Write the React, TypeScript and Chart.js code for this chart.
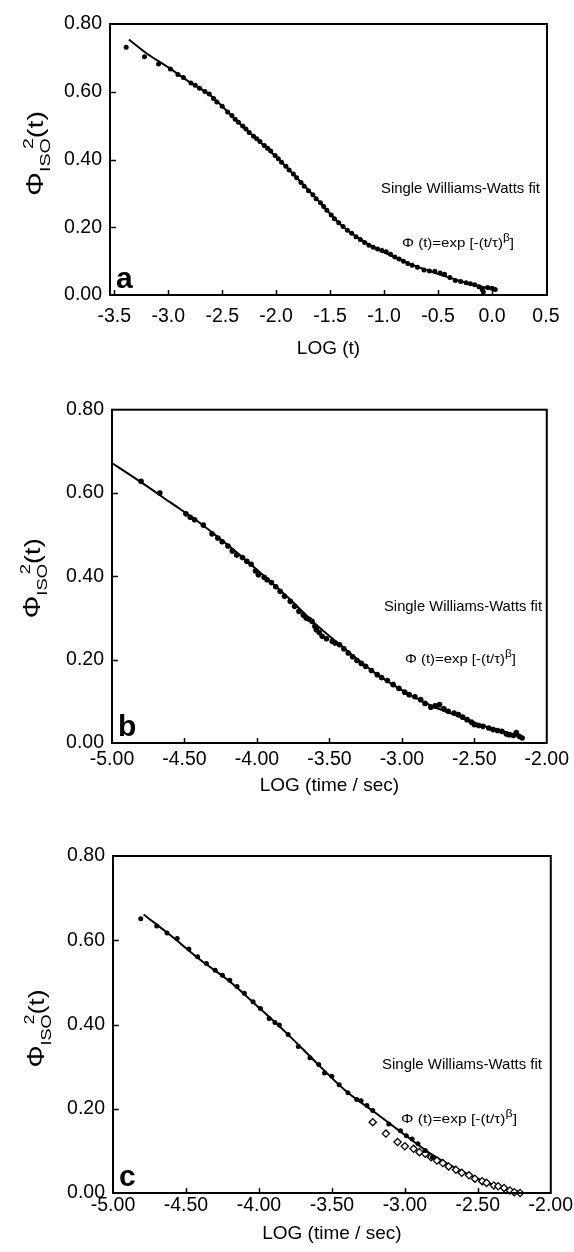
import React, { useEffect, useRef } from "react";
import { Chart, registerables } from "chart.js";
Chart.register(...registerables);

type Pt = [number, number];

// ---------- tick labels ----------
const yTicks = [0, 0.2, 0.4, 0.6, 0.8];
const xTicksA = [-3.5, -3.0, -2.5, -2.0, -1.5, -1.0, -0.5, 0.0, 0.5];
const xTicksBC = [-5.0, -4.5, -4.0, -3.5, -3.0, -2.5, -2.0];

// ---------- panel a ----------
const dotsA: Pt[] = [
  [-3.39, 0.731], [-3.22, 0.703], [-3.09, 0.682], [-2.98, 0.667], [-2.91, 0.651],
  [-2.86, 0.642], [-2.79, 0.626], [-2.75, 0.619], [-2.71, 0.61], [-2.66, 0.601],
  [-2.62, 0.593], [-2.58, 0.58], [-2.55, 0.57], [-2.5, 0.557], [-2.45, 0.54],
  [-2.41, 0.53], [-2.38, 0.519], [-2.35, 0.51], [-2.31, 0.499], [-2.28, 0.49],
  [-2.25, 0.48], [-2.21, 0.469], [-2.18, 0.461], [-2.15, 0.453], [-2.11, 0.441],
  [-2.08, 0.433], [-2.05, 0.425], [-2.01, 0.412], [-1.98, 0.402], [-1.95, 0.392],
  [-1.91, 0.38], [-1.88, 0.369], [-1.84, 0.357], [-1.81, 0.346], [-1.77, 0.332],
  [-1.74, 0.321], [-1.7, 0.308], [-1.66, 0.296], [-1.63, 0.284], [-1.59, 0.272],
  [-1.56, 0.261], [-1.53, 0.25], [-1.49, 0.236], [-1.46, 0.225], [-1.42, 0.213],
  [-1.38, 0.202], [-1.34, 0.191], [-1.3, 0.182], [-1.26, 0.172], [-1.22, 0.164],
  [-1.18, 0.155], [-1.14, 0.147], [-1.1, 0.141], [-1.06, 0.136], [-1.02, 0.131],
  [-0.98, 0.128], [-0.94, 0.12], [-0.9, 0.112], [-0.86, 0.106], [-0.82, 0.1],
  [-0.78, 0.093], [-0.74, 0.088], [-0.69, 0.082], [-0.63, 0.074], [-0.58, 0.071],
  [-0.53, 0.07], [-0.48, 0.065], [-0.44, 0.061], [-0.39, 0.052], [-0.34, 0.043],
  [-0.29, 0.04], [-0.24, 0.036], [-0.2, 0.033], [-0.16, 0.03], [-0.12, 0.024],
  [-0.09, 0.016], [-0.08, 0.009], [-0.04, 0.022], [0.0, 0.02], [0.03, 0.016],
];
const fitA: Pt[] = [
  [-3.365, 0.754], [-3.2, 0.713], [-3.0, 0.672], [-2.8, 0.628], [-2.6, 0.587],
  [-2.4, 0.525], [-2.2, 0.466], [-2.0, 0.408], [-1.8, 0.343], [-1.6, 0.275],
  [-1.4, 0.207], [-1.2, 0.16], [-1.0, 0.126], [-0.8, 0.097], [-0.6, 0.073],
  [-0.4, 0.052], [-0.2, 0.033], [0.0, 0.017], [0.03, 0.015],
];

// ---------- panel b ----------
const dotsB: Pt[] = [
  [-4.8, 0.628], [-4.67, 0.6], [-4.49, 0.55], [-4.46, 0.542], [-4.43, 0.536],
  [-4.37, 0.523], [-4.31, 0.502], [-4.27, 0.492], [-4.24, 0.483], [-4.2, 0.473],
  [-4.17, 0.461], [-4.14, 0.451], [-4.1, 0.445], [-4.07, 0.436], [-4.04, 0.429],
  [-4.01, 0.413], [-3.99, 0.404], [-3.95, 0.398], [-3.93, 0.392], [-3.9, 0.385],
  [-3.87, 0.375], [-3.84, 0.364], [-3.81, 0.352], [-3.77, 0.34], [-3.74, 0.328],
  [-3.71, 0.316], [-3.68, 0.307], [-3.66, 0.3], [-3.64, 0.297], [-3.62, 0.292],
  [-3.6, 0.28], [-3.59, 0.272], [-3.57, 0.265], [-3.55, 0.256], [-3.52, 0.25],
  [-3.48, 0.244], [-3.46, 0.24], [-3.43, 0.236], [-3.4, 0.226], [-3.37, 0.216],
  [-3.34, 0.207], [-3.31, 0.198], [-3.28, 0.191], [-3.25, 0.184], [-3.21, 0.174],
  [-3.17, 0.164], [-3.14, 0.157], [-3.1, 0.15], [-3.06, 0.14], [-3.02, 0.131],
  [-2.98, 0.122], [-2.95, 0.116], [-2.91, 0.111], [-2.87, 0.104], [-2.84, 0.095],
  [-2.8, 0.086], [-2.77, 0.089], [-2.74, 0.092], [-2.71, 0.082], [-2.68, 0.076],
  [-2.64, 0.072], [-2.61, 0.068], [-2.58, 0.062], [-2.55, 0.056], [-2.52, 0.05],
  [-2.5, 0.044], [-2.47, 0.042], [-2.44, 0.04], [-2.4, 0.036], [-2.37, 0.032],
  [-2.34, 0.03], [-2.31, 0.028], [-2.28, 0.022], [-2.26, 0.02], [-2.23, 0.018],
  [-2.21, 0.025], [-2.19, 0.016], [-2.17, 0.012],
];
const fitB: Pt[] = [
  [-5.0, 0.672], [-4.8, 0.626], [-4.6, 0.578], [-4.4, 0.53], [-4.2, 0.475],
  [-4.0, 0.416], [-3.8, 0.354], [-3.6, 0.287], [-3.4, 0.228], [-3.2, 0.172],
  [-3.0, 0.127], [-2.8, 0.09], [-2.6, 0.063], [-2.4, 0.037], [-2.2, 0.018],
  [-2.17, 0.014],
];

// ---------- panel c ----------
const dotsC: Pt[] = [
  [-4.81, 0.651], [-4.7, 0.634], [-4.63, 0.617], [-4.56, 0.604], [-4.48, 0.579],
  [-4.42, 0.561], [-4.36, 0.545], [-4.3, 0.529], [-4.25, 0.517], [-4.2, 0.505],
  [-4.15, 0.49], [-4.1, 0.474], [-4.04, 0.454], [-3.99, 0.438], [-3.93, 0.414],
  [-3.89, 0.405], [-3.86, 0.399], [-3.8, 0.376], [-3.73, 0.348], [-3.65, 0.321],
  [-3.59, 0.305], [-3.55, 0.285], [-3.5, 0.277], [-3.45, 0.257], [-3.39, 0.238],
  [-3.33, 0.222], [-3.3, 0.219], [-3.26, 0.208], [-3.22, 0.196], [-3.11, 0.164],
  [-3.03, 0.148], [-2.99, 0.136], [-2.95, 0.128], [-2.91, 0.117], [-2.86, 0.101],
  [-2.81, 0.085],
];
const diamondsC: Pt[] = [
  [-3.22, 0.168], [-3.13, 0.141], [-3.05, 0.121], [-3.0, 0.111], [-2.94, 0.105],
  [-2.9, 0.097], [-2.86, 0.093], [-2.82, 0.085], [-2.78, 0.077], [-2.74, 0.071],
  [-2.7, 0.063], [-2.65, 0.055], [-2.61, 0.048], [-2.56, 0.042], [-2.52, 0.034],
  [-2.47, 0.028], [-2.44, 0.024], [-2.39, 0.018], [-2.36, 0.016], [-2.32, 0.012],
  [-2.28, 0.006], [-2.25, 0.002], [-2.21, 0.0],
];
const fitC: Pt[] = [
  [-4.79, 0.661], [-4.6, 0.61], [-4.4, 0.553], [-4.2, 0.502], [-4.0, 0.44],
  [-3.8, 0.376], [-3.6, 0.307], [-3.4, 0.241], [-3.2, 0.19], [-3.0, 0.138],
  [-2.8, 0.088], [-2.6, 0.05], [-2.4, 0.02], [-2.22, 0.003],
];

const FONT = "'Liberation Sans', Arial, Helvetica, sans-serif";
const W = 574;
const TICK_SIZE = 19.5;

type Part = { t: string; size: number; dy: number; bold?: boolean; over?: boolean };

function drawParts(ctx: CanvasRenderingContext2D, parts: Part[], targetLen: number, centered: boolean) {
  let total = 0;
  const widths: number[] = [];
  for (const p of parts) {
    ctx.font = `${p.bold ? "bold " : ""}${p.size}px ${FONT}`;
    const w = ctx.measureText(p.t).width;
    widths.push(w);
    if (!p.over) total += w;
  }
  const k = targetLen / total;
  ctx.save();
  ctx.scale(k, 1);
  let cur = centered ? -total / 2 : 0;
  parts.forEach((p, i) => {
    ctx.font = `${p.bold ? "bold " : ""}${p.size}px ${FONT}`;
    if (p.over) {
      ctx.fillText(p.t, cur - widths[i], p.dy);
    } else {
      ctx.fillText(p.t, cur, p.dy);
      cur += widths[i];
    }
  });
  ctx.restore();
}

type Panel = {
  top: number; height: number;
  plotL: number; plotR: number; plotT: number; plotB: number;
  xMin: number; xMax: number; xTicks: number[]; dec: number;
  tickPad: number; titleC: number; xTitle: string; letter: string;
  text: [number, number, number, number];
  formula: [number, number, number, number];
  yTitle: [number, number, number];
  dotR: number;
  series: any[];
};

const panels: Panel[] = [
  {
    top: 0, height: 390, plotL: 110, plotR: 547, plotT: 24, plotB: 295,
    xMin: -3.54, xMax: 0.51, xTicks: xTicksA, dec: 1,
    tickPad: 10, titleC: 349, xTitle: "LOG (t)", letter: "a",
    text: [381, 540, 188, 15], formula: [402, 514, 242, 13], yTitle: [43, 85, -6],
    dotR: 2.5,
    series: [
      { kind: "line", data: fitA },
      { kind: "dot", data: dotsA },
    ],
  },
  {
    top: 390, height: 430, plotL: 112, plotR: 548, plotT: 407, plotB: 743,
    xMin: -5, xMax: -2, xTicks: xTicksBC, dec: 2,
    tickPad: 5, titleC: 786, xTitle: "LOG (time / sec)", letter: "b",
    text: [384, 542, 606, 15], formula: [405, 516, 658, 13], yTitle: [40, 80, 2],
    dotR: 2.8,
    series: [
      { kind: "line", data: fitB },
      { kind: "dot", data: dotsB },
    ],
  },
  {
    top: 820, height: 432, plotL: 113, plotR: 551, plotT: 856, plotB: 1193,
    xMin: -5, xMax: -2, xTicks: xTicksBC, dec: 2,
    tickPad: 1, titleC: 1234, xTitle: "LOG (time / sec)", letter: "c",
    text: [382, 542, 1064, 15], formula: [401, 517, 1118, 13], yTitle: [44, 78, 4],
    dotR: 2.5,
    series: [
      { kind: "line", data: fitC },
      { kind: "dot", data: dotsC },
      { kind: "diamond", data: diamondsC },
    ],
  },
];

function PanelChart({ p }: { p: Panel }) {
  const ref = useRef<HTMLCanvasElement>(null);
  useEffect(() => {
    const canvas = ref.current!;
    const lineH = 19 * 1.2;
    const localT = p.plotT - p.top;
    const localB = p.plotB - p.top;
    const scaleBottom = p.titleC - p.top + lineH / 2;
    const xH = scaleBottom - localB;
    const padBottom = p.height - scaleBottom;

    const datasets = p.series.map((s: any) => {
      const data = s.data.map(([x, y]: Pt) => ({ x, y }));
      if (s.kind === "line") {
        return {
          type: "line", data, borderColor: "#000", borderWidth: 2, pointRadius: 0,
          cubicInterpolationMode: "monotone", fill: false, clip: false, order: 2,
        };
      }
      if (s.kind === "diamond") {
        return {
          type: "scatter", data, pointStyle: "rectRot", pointRadius: 3.6,
          backgroundColor: "#fff", borderColor: "#000", borderWidth: 1.3, clip: false, order: 1,
        };
      }
      return {
        type: "scatter", data, pointStyle: "circle", pointRadius: p.dotR,
        backgroundColor: "#000", borderColor: "#000", borderWidth: 0, clip: false, order: 1,
      };
    });

    const overlay = {
      id: "overlay",
      afterDraw(chart: any) {
        const ctx: CanvasRenderingContext2D = chart.ctx;
        const { left, right, top, bottom } = chart.chartArea;
        const xs = chart.scales.x;
        const ys = chart.scales.y;
        ctx.save();
        ctx.strokeStyle = "#000";
        ctx.fillStyle = "#000";
        ctx.lineWidth = 1.5;
        ctx.beginPath();
        p.xTicks.forEach((v) => {
          const px = Math.round(xs.getPixelForValue(v)) + 0.5;
          if (px < left + 3 || px > right - 3) return;
          ctx.moveTo(px, bottom);
          ctx.lineTo(px, bottom - 5);
        });
        yTicks.forEach((v) => {
          const py = Math.round(ys.getPixelForValue(v)) + 0.5;
          if (py < top + 3 || py > bottom - 3) return;
          ctx.moveTo(left, py);
          ctx.lineTo(left + 6, py);
        });
        ctx.stroke();
        ctx.lineWidth = 2;
        ctx.strokeRect(left, top, right - left, bottom - top);
        ctx.font = `bold 30px ${FONT}`;
        ctx.textAlign = "left";
        ctx.textBaseline = "alphabetic";
        ctx.fillText(p.letter, left + 6, bottom - 7);
        const [tx0, tx1, tcy, ts] = p.text;
        ctx.save();
        ctx.translate(tx0, tcy - p.top + ts * 0.36);
        drawParts(ctx, [{ t: "Single Williams-Watts fit", size: ts, dy: 0 }], tx1 - tx0, false);
        ctx.restore();
        const [fx0, fx1, fcy, fs] = p.formula;
        ctx.save();
        ctx.translate(fx0, fcy - p.top + fs * 0.36);
        drawParts(ctx, [
          { t: "\u03A6 (t)=exp [-(t/\u03C4)", size: fs, dy: 0 },
          { t: "\u03B2", size: fs * 0.8, dy: -fs * 0.42 },
          { t: "]", size: fs, dy: 0 },
        ], fx1 - fx0, false);
        ctx.restore();
        const [bx, len, off] = p.yTitle;
        ctx.save();
        ctx.translate(bx, (top + bottom) / 2 + off);
        ctx.rotate(-Math.PI / 2);
        drawParts(ctx, [
          { t: "\u03A6", size: 23, dy: 0 },
          { t: "ISO", size: 15, dy: 7 },
          { t: "2", size: 15, dy: -10, over: true },
          { t: "(t)", size: 22, dy: 0 },
        ], len, true);
        ctx.restore();
        ctx.restore();
      },
    };

    const chart = new Chart(canvas, {
      type: "scatter",
      data: { datasets } as any,
      options: {
        animation: false,
        responsive: false,
        maintainAspectRatio: false,
        events: [],
        layout: {
          padding: { left: 0, right: W - p.plotR, top: localT, bottom: padBottom },
        },
        plugins: { legend: { display: false }, tooltip: { enabled: false } },
        scales: {
          x: {
            type: "linear", position: "bottom", min: p.xMin, max: p.xMax,
            afterBuildTicks: (s: any) => { s.ticks = p.xTicks.map((v) => ({ value: v })); },
            afterFit: (s: any) => { s.height = xH; },
            grid: { display: false, drawTicks: false },
            border: { display: false },
            ticks: {
              padding: p.tickPad, color: "#000", autoSkip: false, maxRotation: 0,
              font: { family: FONT, size: TICK_SIZE },
              callback: (v: any) => Number(v).toFixed(p.dec),
            },
            title: {
              display: true, text: p.xTitle, color: "#000", padding: 0,
              font: { family: FONT, size: 19 },
            },
          },
          y: {
            type: "linear", position: "left", min: 0, max: 0.8,
            afterBuildTicks: (s: any) => { s.ticks = yTicks.map((v) => ({ value: v })); },
            afterFit: (s: any) => { s.width = p.plotL; },
            grid: { display: false, drawTicks: false },
            border: { display: false },
            ticks: {
              padding: 8, color: "#000", autoSkip: false,
              font: { family: FONT, size: TICK_SIZE },
              callback: (v: any) => Number(v).toFixed(2),
            },
          },
        },
      } as any,
      plugins: [overlay],
    });
    return () => chart.destroy();
  }, [p]);
  return (
    <canvas
      ref={ref}
      width={W}
      height={p.height}
      style={{ position: "absolute", left: 0, top: p.top, width: W, height: p.height, display: "block" }}
    />
  );
}

export default function App() {
  return (
    <div style={{ position: "absolute", left: 0, top: 0, width: W, height: 1252, background: "#fff", overflow: "hidden" }}>
      {panels.map((p, i) => (
        <PanelChart key={i} p={p} />
      ))}
    </div>
  );
}
